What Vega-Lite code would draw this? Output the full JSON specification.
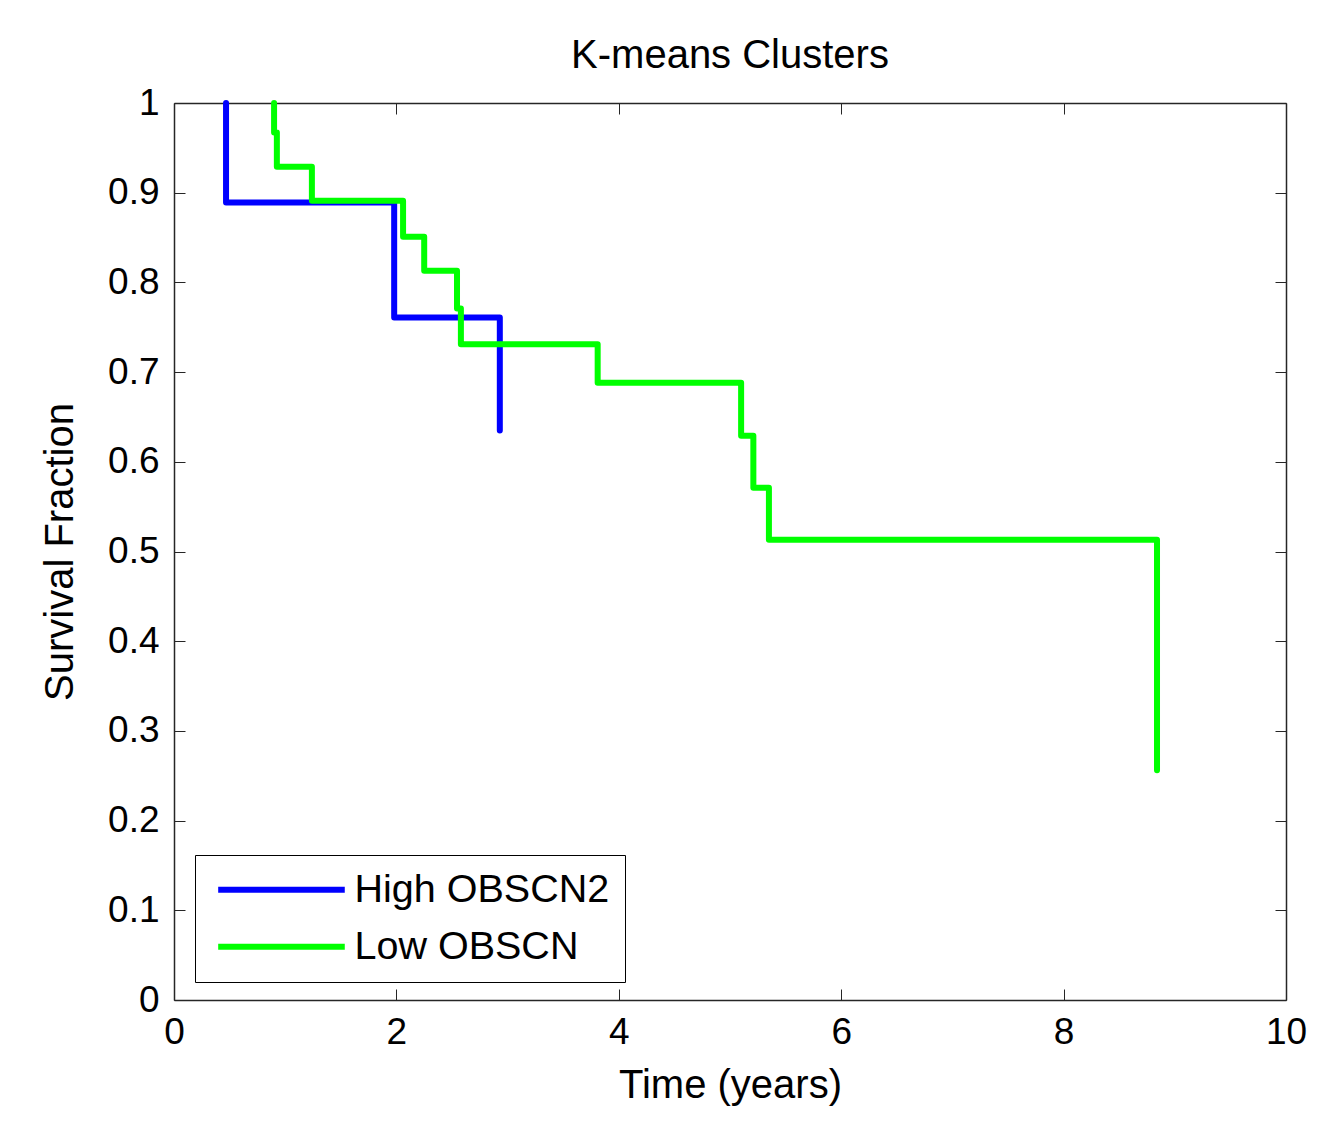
{
  "$schema": "https://vega.github.io/schema/vega-lite/v6.json",
  "autosize": "none",
  "width": 1112,
  "height": 897,
  "padding": {"left": 174, "top": 103, "right": 36, "bottom": 121},
  "background": "white",
  "title": {"text": "K-means Clusters", "font": "Liberation Sans", "fontSize": 40, "fontWeight": "normal", "color": "black", "offset": 8, "anchor": "middle", "frame": "group"},
  "config": {
    "view": {"stroke": null},
    "font": "Liberation Sans",
    "axis": {"grid": false, "labelFlush": false, "domainColor": "#262626", "domainWidth": 1.5, "tickColor": "#262626", "tickSize": -11, "labelFont": "Liberation Sans", "labelFontSize": 37, "labelColor": "black", "titleFont": "Liberation Sans", "titleFontSize": 40, "titleFontWeight": "normal", "titleColor": "black"}
  },
  "data": {"values": [
    {"group": "High OBSCN2", "i": 0, "time": 0.468, "surv": 1.0},
    {"group": "High OBSCN2", "i": 1, "time": 0.468, "surv": 0.889},
    {"group": "High OBSCN2", "i": 2, "time": 1.98, "surv": 0.761},
    {"group": "High OBSCN2", "i": 3, "time": 2.93, "surv": 0.635},
    {"group": "Low OBSCN", "i": 0, "time": 0.90, "surv": 1.0},
    {"group": "Low OBSCN", "i": 1, "time": 0.90, "surv": 0.967},
    {"group": "Low OBSCN", "i": 2, "time": 0.925, "surv": 0.929},
    {"group": "Low OBSCN", "i": 3, "time": 1.24, "surv": 0.891},
    {"group": "Low OBSCN", "i": 4, "time": 2.06, "surv": 0.851},
    {"group": "Low OBSCN", "i": 5, "time": 2.25, "surv": 0.813},
    {"group": "Low OBSCN", "i": 6, "time": 2.545, "surv": 0.771},
    {"group": "Low OBSCN", "i": 7, "time": 2.58, "surv": 0.731},
    {"group": "Low OBSCN", "i": 8, "time": 3.81, "surv": 0.688},
    {"group": "Low OBSCN", "i": 9, "time": 5.10, "surv": 0.629},
    {"group": "Low OBSCN", "i": 10, "time": 5.21, "surv": 0.571},
    {"group": "Low OBSCN", "i": 11, "time": 5.35, "surv": 0.513},
    {"group": "Low OBSCN", "i": 12, "time": 8.84, "surv": 0.256}
  ]},
  "layer": [
    {
      "mark": {"type": "line", "interpolate": "step-after", "strokeWidth": 6, "strokeJoin": "round", "strokeCap": "round"},
      "encoding": {
        "x": {"field": "time", "type": "quantitative", "scale": {"domain": [0, 10], "nice": false, "zero": false},
              "axis": {"orient": "bottom", "values": [0, 2, 4, 6, 8, 10], "title": "Time (years)", "labelPadding": 25, "labelBaseline": "top", "titlePadding": 15}},
        "y": {"field": "surv", "type": "quantitative", "scale": {"domain": [0, 1], "nice": false, "zero": false},
              "axis": {"orient": "left", "values": [0, 0.1, 0.2, 0.3, 0.4, 0.5, 0.6, 0.7, 0.8, 0.9, 1], "format": ".1~f", "title": "Survival Fraction", "labelPadding": 26, "titlePadding": 27}},
        "color": {"field": "group", "type": "nominal",
                  "scale": {"domain": ["High OBSCN2", "Low OBSCN"], "range": ["#0000ff", "#00ff00"]},
                  "legend": {"title": null, "orient": "none", "legendX": 21, "legendY": 752, "strokeColor": "black", "fillColor": "white", "padding": 15, "symbolType": "M-0.74,0H7.36", "symbolSize": 977, "symbolStrokeWidth": 6, "labelFontSize": 39.5, "labelFont": "Liberation Sans", "labelColor": "black", "labelOffset": 105, "labelLimit": 600, "rowPadding": 16}},
        "order": {"field": "i", "type": "quantitative"}
      }
    },
    {
      "mark": {"type": "line", "strokeOpacity": 0},
      "encoding": {
        "x": {"field": "time", "type": "quantitative", "axis": {"orient": "top", "values": [0, 2, 4, 6, 8, 10], "labels": false, "title": null}},
        "y": {"field": "surv", "type": "quantitative", "axis": {"orient": "right", "values": [0, 0.1, 0.2, 0.3, 0.4, 0.5, 0.6, 0.7, 0.8, 0.9, 1], "labels": false, "title": null}},
        "detail": {"field": "group", "type": "nominal"}
      }
    }
  ],
  "resolve": {"axis": {"x": "independent", "y": "independent"}}
}
